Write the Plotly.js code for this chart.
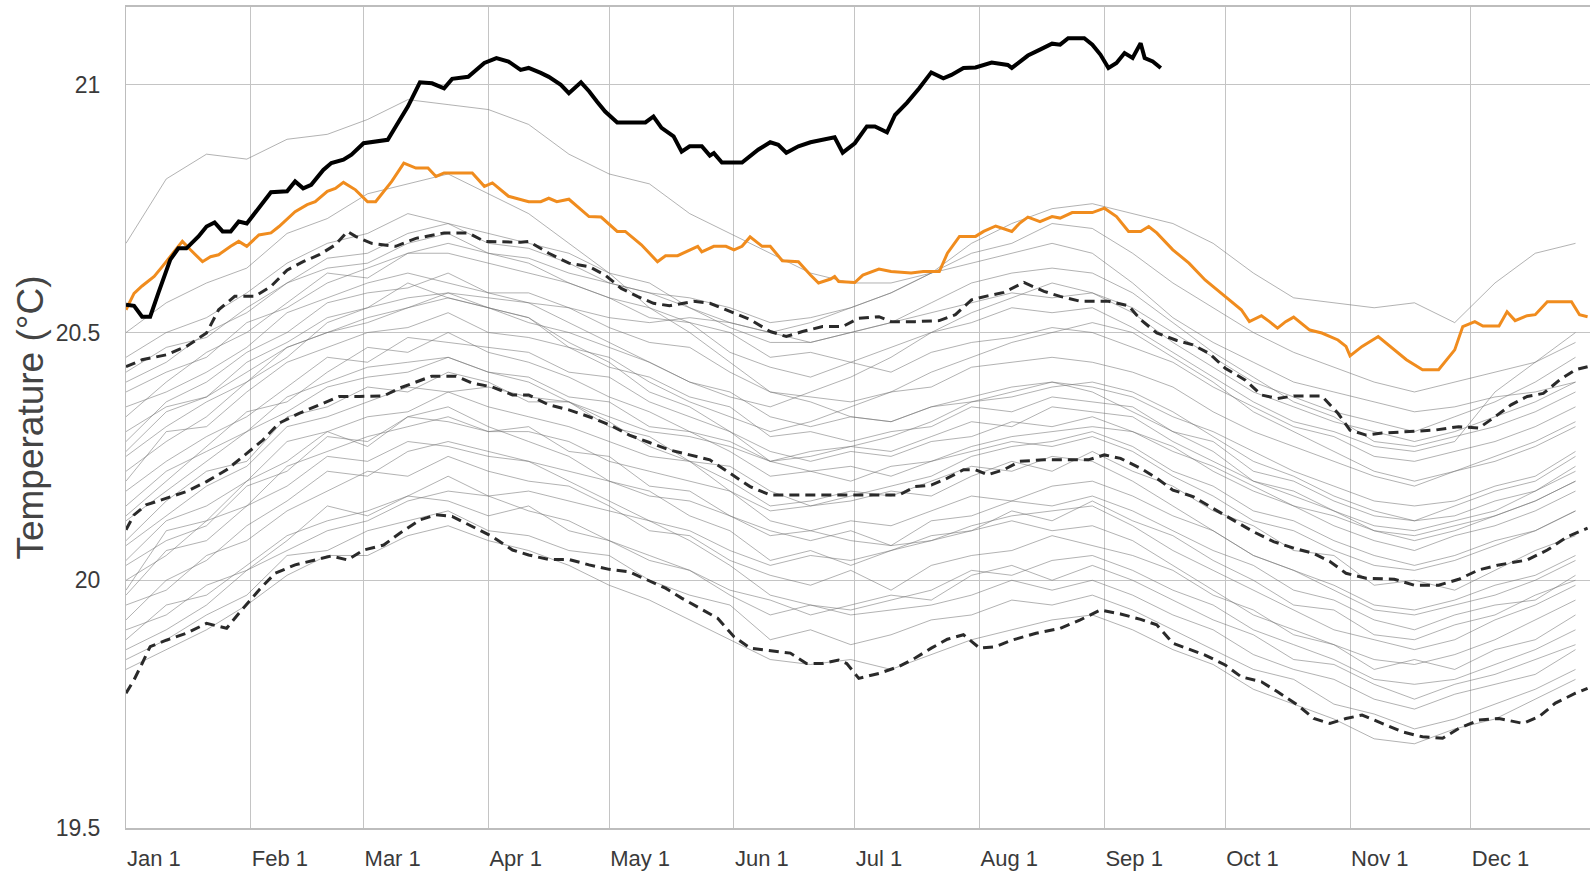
<!DOCTYPE html>
<html>
<head>
<meta charset="utf-8">
<script src="https://cdn.plot.ly/plotly-3.0.1.min.js"></script>
<style>html,body{margin:0;padding:0;background:#fff;}#chart{width:1590px;height:877px;}</style>
</head>
<body>
<div id="chart"></div>
<script>
// ---- axis ticks ----
const monthStarts = [0,31,59,90,120,151,181,212,243,273,304,334];
const monthLabels = ['Jan 1','Feb 1','Mar 1','Apr 1','May 1','Jun 1','Jul 1','Aug 1','Sep 1','Oct 1','Nov 1','Dec 1'];
const tempTicks = [19.5,20,20.5,21];
const tempTickText = ['19.5','20','20.5','21'];

// ---- current year (black, bold) ----
const blackDays = [0,2,4,6,8,11,13,15,18,20,22,24,26,28,30,32,34,36,40,42,44,46,49,51,54,56,59,62,65,67,70,73,76,79,81,85,89,92,95,98,100,103,105,108,110,113,115,117,119,122,129,131,133,136,138,140,143,145,146,148,153,157,160,162,164,167,170,176,178,181,184,186,189,191,194,197,200,203,205,208,211,215,219,220,224,227,230,232,234,238,240,242,244,246,248,250,252,253,255,257];
const blackTemps = [20.556,20.554,20.532,20.532,20.579,20.647,20.670,20.670,20.694,20.714,20.722,20.704,20.704,20.724,20.720,20.741,20.761,20.783,20.785,20.805,20.791,20.798,20.828,20.842,20.849,20.859,20.882,20.886,20.889,20.916,20.956,21.005,21.003,20.993,21.012,21.016,21.044,21.054,21.047,21.030,21.034,21.024,21.016,21.000,20.983,21.005,20.987,20.966,20.946,20.924,20.924,20.936,20.913,20.896,20.865,20.876,20.876,20.857,20.862,20.843,20.843,20.869,20.884,20.879,20.863,20.876,20.884,20.894,20.863,20.882,20.916,20.916,20.904,20.939,20.964,20.993,21.025,21.013,21.020,21.034,21.035,21.045,21.040,21.034,21.059,21.071,21.083,21.081,21.094,21.094,21.081,21.061,21.034,21.044,21.064,21.054,21.084,21.054,21.047,21.034];

// ---- previous year (orange) ----
const orangeDays = [0,2,4,7,9,12,14,16,19,21,23,26,28,30,33,36,38,42,45,47,50,52,54,57,60,62,66,69,72,75,77,79,86,89,91,95,98,100,103,105,107,110,113,115,118,122,124,128,132,134,137,139,142,143,146,149,151,153,155,158,160,163,167,170,172,175,176,177,181,183,187,190,195,198,202,204,207,211,213,216,220,222,224,227,230,232,235,240,243,246,249,252,254,256,260,264,268,271,274,277,279,282,284,286,288,290,294,297,301,303,304,307,311,314,318,322,326,330,332,335,337,341,343,345,348,350,353,359,361,363];
const orangeTemps = [20.546,20.579,20.594,20.613,20.633,20.663,20.684,20.667,20.643,20.653,20.657,20.674,20.684,20.674,20.697,20.701,20.714,20.744,20.758,20.764,20.785,20.791,20.803,20.788,20.764,20.764,20.805,20.842,20.832,20.832,20.815,20.822,20.822,20.795,20.802,20.775,20.768,20.764,20.764,20.771,20.764,20.769,20.748,20.734,20.733,20.704,20.704,20.677,20.643,20.655,20.655,20.663,20.674,20.663,20.674,20.674,20.667,20.674,20.693,20.674,20.674,20.645,20.643,20.616,20.600,20.608,20.613,20.603,20.601,20.616,20.628,20.623,20.620,20.623,20.623,20.660,20.694,20.694,20.704,20.715,20.704,20.721,20.733,20.724,20.734,20.731,20.742,20.742,20.751,20.734,20.704,20.704,20.714,20.701,20.667,20.640,20.606,20.586,20.566,20.546,20.522,20.534,20.522,20.509,20.522,20.531,20.505,20.499,20.485,20.472,20.453,20.472,20.492,20.472,20.445,20.425,20.425,20.465,20.512,20.522,20.513,20.513,20.542,20.524,20.534,20.536,20.562,20.562,20.536,20.532];

// ---- climatology: mean + 2 sigma ----
const plus2Days = [0,4,10,15,20,23,27,32,36,40,44,48,52,55,57,61,67,72,79,85,89,98,100,105,110,115,119,123,127,131,135,141,145,150,155,160,164,168,173,178,182,187,190,196,202,206,210,214,218,223,228,232,237,244,249,252,256,261,265,269,273,278,282,286,290,297,301,304,308,312,318,325,331,336,340,344,348,352,356,360,363];
const plus2Temps = [20.431,20.445,20.455,20.472,20.499,20.546,20.573,20.573,20.593,20.626,20.643,20.657,20.677,20.704,20.694,20.680,20.674,20.690,20.701,20.701,20.684,20.682,20.684,20.660,20.640,20.633,20.616,20.589,20.573,20.559,20.554,20.563,20.559,20.542,20.526,20.502,20.492,20.502,20.512,20.512,20.529,20.532,20.522,20.522,20.524,20.536,20.566,20.574,20.581,20.601,20.583,20.573,20.563,20.563,20.554,20.526,20.499,20.484,20.475,20.458,20.428,20.404,20.374,20.367,20.372,20.372,20.337,20.303,20.293,20.297,20.300,20.303,20.310,20.307,20.330,20.354,20.371,20.377,20.404,20.425,20.431];

// ---- climatology: mean ----
const meanDays = [0,2,5,10,15,20,25,30,34,38,43,48,53,58,64,68,73,76,82,86,91,96,100,105,110,115,120,125,130,135,140,145,150,155,160,192,196,200,204,208,211,214,218,222,228,239,243,247,252,256,260,265,270,275,280,285,290,295,299,303,308,315,320,326,331,336,341,348,353,358,363];
const meanTemps = [20.102,20.132,20.152,20.166,20.179,20.199,20.223,20.256,20.283,20.317,20.337,20.354,20.371,20.371,20.372,20.388,20.404,20.412,20.412,20.398,20.390,20.374,20.374,20.354,20.344,20.330,20.314,20.293,20.278,20.263,20.253,20.243,20.216,20.189,20.172,20.172,20.189,20.192,20.206,20.223,20.223,20.213,20.223,20.240,20.243,20.243,20.253,20.246,20.226,20.206,20.182,20.169,20.145,20.122,20.098,20.078,20.065,20.054,20.038,20.014,20.004,20.002,19.990,19.990,20.002,20.021,20.031,20.041,20.061,20.088,20.105];

// ---- climatology: mean - 2 sigma ----
const minus2Days = [0,2,4,6,10,15,20,25,28,33,37,42,47,51,55,59,64,68,73,77,81,86,91,96,100,105,110,115,120,125,129,134,138,143,147,151,155,165,169,173,177,179,182,187,192,196,200,204,208,212,216,220,226,232,237,242,247,252,256,260,264,268,273,277,282,286,291,295,299,303,307,312,317,322,327,331,336,341,347,351,355,360,363];
const minus2Temps = [19.772,19.799,19.832,19.866,19.879,19.893,19.913,19.903,19.933,19.980,20.014,20.031,20.041,20.049,20.041,20.061,20.071,20.095,20.122,20.132,20.129,20.108,20.088,20.061,20.051,20.042,20.042,20.031,20.022,20.017,20.002,19.984,19.964,19.941,19.923,19.886,19.863,19.853,19.832,19.832,19.839,19.832,19.802,19.812,19.826,19.843,19.863,19.881,19.890,19.863,19.866,19.879,19.893,19.903,19.920,19.940,19.932,19.921,19.910,19.873,19.861,19.849,19.829,19.805,19.795,19.775,19.748,19.721,19.711,19.721,19.728,19.711,19.694,19.684,19.681,19.701,19.718,19.721,19.711,19.725,19.752,19.772,19.782];

// ---- earlier years (thin grey), sampled every 10 days ----
const greyDays = [0,10,20,30,40,50,60,70,80,90,100,110,120,130,140,150,160,170,180,190,200,210,220,230,240,250,260,270,280,290,300,310,320,330,340,350,360];
const g1 = [19.84,19.88,19.93,19.97,20.05,20.06,20.10,20.12,20.14,20.10,20.09,20.06,20.05,20.00,19.97,19.95,19.88,19.90,19.87,19.89,19.92,19.93,19.96,19.95,19.97,19.94,19.90,19.86,19.82,19.80,19.75,19.73,19.70,19.72,19.75,19.78,19.82];
const g2 = [19.90,19.93,19.99,20.02,20.08,20.15,20.13,20.17,20.21,20.17,20.14,20.12,20.08,20.05,20.02,19.98,19.96,19.93,19.95,19.97,19.96,20.01,20.03,20.00,20.03,20.00,19.96,19.92,19.89,19.84,19.83,19.79,19.76,19.79,19.81,19.84,19.87];
const g3 = [19.95,19.98,20.05,20.08,20.14,20.18,20.22,20.21,20.25,20.22,20.20,20.19,20.15,20.10,20.09,20.04,20.01,19.99,20.02,19.98,20.03,20.05,20.06,20.09,20.07,20.05,20.02,19.97,19.94,19.89,19.87,19.82,19.84,19.82,19.86,19.88,19.93];
const g4 = [19.97,20.06,20.08,20.15,20.19,20.25,20.24,20.28,20.27,20.25,20.24,20.20,20.16,20.12,20.08,20.03,19.97,19.95,19.93,19.94,19.95,19.97,20.00,19.98,20.00,19.97,19.93,19.90,19.85,19.82,19.80,19.76,19.74,19.77,19.79,19.81,19.86];
const g5 = [20.03,20.08,20.11,20.19,20.22,20.29,20.28,20.33,20.32,20.30,20.31,20.26,20.25,20.19,20.18,20.13,20.10,20.08,20.10,20.07,20.12,20.13,20.16,20.15,20.17,20.14,20.10,20.06,20.03,19.98,19.96,19.92,19.90,19.93,19.95,19.96,20.01];
const g6 = [20.04,20.12,20.15,20.20,20.28,20.30,20.33,20.34,20.38,20.35,20.33,20.31,20.28,20.25,20.24,20.20,20.15,20.16,20.18,20.17,20.20,20.23,20.22,20.25,20.24,20.20,20.15,20.10,20.05,20.02,19.98,19.94,19.93,19.95,19.97,20.00,20.04];
const g7 = [20.08,20.16,20.22,20.24,20.33,20.35,20.39,20.38,20.42,20.40,20.36,20.36,20.31,20.29,20.24,20.23,20.18,20.15,20.16,20.18,20.17,20.21,20.24,20.22,20.26,20.22,20.19,20.14,20.11,20.06,20.05,19.99,20.00,19.98,20.02,20.06,20.09];
const g8 = [20.12,20.18,20.24,20.30,20.34,20.39,20.41,20.42,20.45,20.42,20.41,20.37,20.36,20.31,20.30,20.26,20.21,20.22,20.20,20.23,20.24,20.27,20.29,20.30,20.31,20.30,20.26,20.23,20.19,20.15,20.13,20.10,20.09,20.11,20.13,20.16,20.20];
const g9 = [20.07,20.13,20.19,20.23,20.31,20.33,20.36,20.39,20.38,20.39,20.37,20.36,20.33,20.30,20.29,20.27,20.24,20.25,20.27,20.26,20.29,20.32,20.31,20.35,20.34,20.33,20.28,20.24,20.20,20.18,20.14,20.11,20.10,20.12,20.14,20.18,20.22];
const g10 = [20.18,20.24,20.29,20.33,20.39,20.45,20.44,20.49,20.48,20.47,20.46,20.42,20.41,20.36,20.33,20.30,20.26,20.24,20.26,20.25,20.28,20.29,20.32,20.31,20.33,20.30,20.27,20.22,20.18,20.15,20.11,20.08,20.06,20.09,20.11,20.14,20.18];
const g11 = [20.20,20.30,20.31,20.38,20.44,20.47,20.50,20.51,20.54,20.50,20.49,20.47,20.43,20.41,20.37,20.35,20.29,20.30,20.28,20.30,20.31,20.35,20.34,20.37,20.36,20.35,20.30,20.28,20.22,20.20,20.16,20.13,20.12,20.13,20.16,20.18,20.23];
const g12 = [20.25,20.31,20.36,20.40,20.47,20.50,20.53,20.55,20.57,20.55,20.52,20.50,20.47,20.44,20.40,20.38,20.33,20.31,20.33,20.32,20.35,20.37,20.39,20.40,20.39,20.37,20.33,20.30,20.26,20.22,20.19,20.16,20.15,20.16,20.19,20.21,20.26];
const g13 = [20.28,20.36,20.40,20.46,20.50,20.56,20.58,20.59,20.62,20.58,20.58,20.55,20.51,20.48,20.47,20.42,20.38,20.37,20.36,20.38,20.39,20.43,20.44,20.45,20.44,20.42,20.39,20.34,20.30,20.27,20.24,20.21,20.19,20.22,20.24,20.27,20.31];
const g14 = [20.33,20.40,20.46,20.50,20.56,20.62,20.61,20.66,20.66,20.64,20.62,20.60,20.57,20.53,20.52,20.46,20.43,20.41,20.44,20.42,20.46,20.48,20.49,20.51,20.50,20.47,20.44,20.39,20.35,20.31,20.29,20.25,20.24,20.26,20.28,20.31,20.35];
const g15 = [20.45,20.50,20.53,20.58,20.64,20.68,20.70,20.74,20.72,20.70,20.68,20.66,20.62,20.60,20.55,20.52,20.50,20.48,20.50,20.52,20.54,20.56,20.58,20.57,20.58,20.54,20.48,20.43,20.38,20.35,20.32,20.30,20.28,20.30,20.33,20.36,20.40];
const g16 = [20.38,20.42,20.45,20.52,20.55,20.60,20.63,20.66,20.68,20.66,20.65,20.62,20.60,20.58,20.57,20.55,20.52,20.53,20.55,20.58,20.62,20.66,20.68,20.72,20.71,20.66,20.60,20.55,20.50,20.46,20.43,20.40,20.38,20.40,20.42,20.44,20.48];
const g17 = [20.30,20.35,20.37,20.42,20.47,20.50,20.52,20.55,20.58,20.57,20.56,20.55,20.53,20.52,20.53,20.52,20.50,20.52,20.55,20.58,20.62,20.68,20.72,20.75,20.76,20.74,20.72,20.68,20.62,20.57,20.56,20.55,20.56,20.52,20.60,20.66,20.68];
const g18 = [20.68,20.81,20.86,20.85,20.89,20.90,20.93,20.97,20.96,20.95,20.92,20.86,20.82,20.80,20.74,20.70,20.66,20.62,20.60,20.60,20.62,20.64,20.66,20.68,20.66,20.60,20.53,20.48,20.44,20.40,20.38,20.36,20.34,20.35,20.37,20.38,20.40];
const g19 = [20.40,20.44,20.50,20.54,20.60,20.65,20.66,20.70,20.72,20.68,20.67,20.64,20.60,20.58,20.55,20.51,20.48,20.48,20.50,20.52,20.56,20.60,20.62,20.63,20.62,20.58,20.52,20.46,20.41,20.36,20.33,20.28,20.27,20.29,20.31,20.34,20.38];
const g20 = [20.35,20.38,20.42,20.47,20.54,20.57,20.60,20.62,20.60,20.58,20.56,20.52,20.48,20.44,20.40,20.37,20.35,20.38,20.41,20.45,20.50,20.54,20.57,20.60,20.58,20.55,20.50,20.45,20.40,20.37,20.34,20.32,20.30,20.33,20.36,20.40,20.45];
const g21 = [20.42,20.47,20.49,20.55,20.60,20.63,20.64,20.68,20.70,20.66,20.64,20.60,20.57,20.55,20.52,20.50,20.45,20.46,20.44,20.47,20.50,20.52,20.55,20.54,20.55,20.51,20.46,20.41,20.36,20.32,20.30,20.27,20.26,20.28,20.38,20.44,20.50];
const g22 = [20.00,20.05,20.12,20.15,20.23,20.26,20.29,20.31,20.33,20.30,20.30,20.28,20.24,20.22,20.20,20.18,20.14,20.15,20.17,20.19,20.21,20.25,20.27,20.28,20.30,20.27,20.22,20.19,20.14,20.12,20.08,20.05,20.03,20.05,20.08,20.10,20.14];
const g23 = [19.92,20.00,20.04,20.11,20.16,20.22,20.21,20.26,20.28,20.26,20.24,20.22,20.20,20.17,20.16,20.13,20.09,20.10,20.12,20.11,20.14,20.17,20.16,20.19,20.20,20.17,20.13,20.10,20.05,20.02,19.99,19.95,19.94,19.96,19.99,20.01,20.05];
const g24 = [19.86,19.90,19.95,20.02,20.06,20.10,20.12,20.16,20.18,20.17,20.18,20.16,20.14,20.12,20.10,20.06,20.03,20.05,20.04,20.06,20.08,20.11,20.13,20.14,20.15,20.11,20.06,20.02,19.98,19.94,19.90,19.88,19.86,19.88,19.92,19.95,19.99];
const g25 = [20.15,20.22,20.26,20.30,20.37,20.40,20.43,20.44,20.45,20.42,20.40,20.36,20.32,20.27,20.24,20.18,20.12,20.10,20.08,20.07,20.08,20.10,20.12,20.10,20.11,20.08,20.03,19.98,19.93,19.90,19.87,19.84,19.83,19.85,19.88,19.92,19.96];
const g26 = [20.26,20.34,20.37,20.44,20.48,20.53,20.55,20.57,20.58,20.55,20.53,20.48,20.44,20.38,20.35,20.30,20.24,20.22,20.23,20.21,20.24,20.26,20.28,20.27,20.29,20.26,20.21,20.17,20.12,20.10,20.06,20.03,20.02,20.04,20.07,20.10,20.14];
const g27 = [20.13,20.20,20.27,20.34,20.36,20.42,20.47,20.46,20.50,20.46,20.44,20.41,20.37,20.34,20.30,20.28,20.24,20.26,20.27,20.29,20.32,20.36,20.37,20.39,20.40,20.38,20.34,20.29,20.24,20.21,20.17,20.14,20.12,20.15,20.18,20.20,20.25];
const g28 = [19.88,19.95,19.97,20.03,20.09,20.12,20.14,20.17,20.16,20.13,20.15,20.10,20.08,20.04,20.02,19.97,19.93,19.95,19.94,19.96,19.98,20.02,20.01,20.04,20.05,20.02,19.98,19.95,19.90,19.87,19.84,19.80,19.79,19.80,19.83,19.86,19.90];
const g29 = [20.50,20.56,20.60,20.63,20.70,20.73,20.78,20.80,20.82,20.78,20.74,20.68,20.62,20.55,20.50,20.44,20.38,20.36,20.33,20.32,20.35,20.36,20.38,20.40,20.38,20.34,20.30,20.26,20.20,20.17,20.14,20.10,20.08,20.10,20.13,20.16,20.20];
const g30 = [19.98,20.10,20.12,20.20,20.24,20.30,20.27,20.33,20.35,20.31,20.28,20.25,20.20,20.18,20.13,20.10,20.04,20.06,20.03,20.06,20.09,20.10,20.14,20.12,20.16,20.12,20.09,20.04,20.00,19.95,19.94,19.89,19.88,19.91,19.93,19.97,20.00];
const g31 = [20.22,20.28,20.33,20.40,20.45,20.52,20.55,20.60,20.57,20.55,20.53,20.47,20.45,20.40,20.36,20.33,20.30,20.32,20.35,20.38,20.42,20.45,20.48,20.50,20.52,20.50,20.45,20.40,20.34,20.30,20.26,20.22,20.20,20.22,20.25,20.28,20.32];
const g32 = [19.82,19.86,19.90,19.95,20.01,20.05,20.05,20.09,20.11,20.08,20.06,20.03,19.99,19.96,19.92,19.88,19.84,19.83,19.84,19.82,19.85,19.88,19.90,19.92,19.93,19.90,19.86,19.83,19.78,19.75,19.72,19.68,19.67,19.70,19.72,19.76,19.80];
const greySeries = [g1,g2,g3,g4,g5,g6,g7,g8,g9,g10,g11,g12,g13,g14,g15,g16,g17,g18,g19,g20,g21,g22,g23,g24,g25,g26,g27,g28,g29,g30,g31,g32];

// ---- traces ----
const traces = [];
greySeries.forEach(function (ys) {
  traces.push({x: greyDays, y: ys, type: 'scatter', mode: 'lines',
    line: {color: 'rgba(115,115,115,0.55)', width: 1}, hoverinfo: 'skip'});
});
const dashStyle = {color: '#2a2a2a', width: 3, dash: '10px,6px'};
traces.push({x: minus2Days, y: minus2Temps, type: 'scatter', mode: 'lines', line: dashStyle});
traces.push({x: meanDays, y: meanTemps, type: 'scatter', mode: 'lines', line: dashStyle});
traces.push({x: plus2Days, y: plus2Temps, type: 'scatter', mode: 'lines', line: dashStyle});
traces.push({x: orangeDays, y: orangeTemps, type: 'scatter', mode: 'lines', line: {color: '#f08c1e', width: 3}});
traces.push({x: blackDays, y: blackTemps, type: 'scatter', mode: 'lines', line: {color: '#000000', width: 4}});

const fontFamily = '"Liberation Sans", Arial, sans-serif';

const layout = {
  width: 1590, height: 877,
  margin: {l: 126, r: 0, t: 7, b: 49, pad: 0},
  paper_bgcolor: '#ffffff', plot_bgcolor: '#ffffff',
  showlegend: false,
  xaxis: {
    range: [0, 363.6], type: 'linear',
    tickmode: 'array', tickvals: monthStarts, ticktext: monthLabels,
    showgrid: true, gridcolor: '#c4c4c4', gridwidth: 1,
    zeroline: false, showline: true, linecolor: '#bdbdbd', linewidth: 2, mirror: true,
    ticks: '', ticklabelposition: 'outside right', ticklabelstandoff: 10,
    tickfont: {family: fontFamily, size: 22, color: '#3a3a3a'}, automargin: false, fixedrange: true
  },
  yaxis: {
    range: [19.5, 21.157],
    tickmode: 'array', tickvals: tempTicks, ticktext: tempTickText,
    showgrid: true, gridcolor: '#c4c4c4', gridwidth: 1,
    zeroline: false, showline: true, linecolor: '#bdbdbd', linewidth: 1,
    ticks: '', ticklabelstandoff: 20,
    tickfont: {family: fontFamily, size: 23, color: '#3a3a3a'},
    title: {text: 'Temperature (°C)', standoff: 0,
      font: {family: fontFamily, size: 37, color: '#444444'}},
    automargin: false, fixedrange: true
  }
};

Plotly.newPlot('chart', traces, layout, {displayModeBar: false, staticPlot: true});
</script>
</body>
</html>
